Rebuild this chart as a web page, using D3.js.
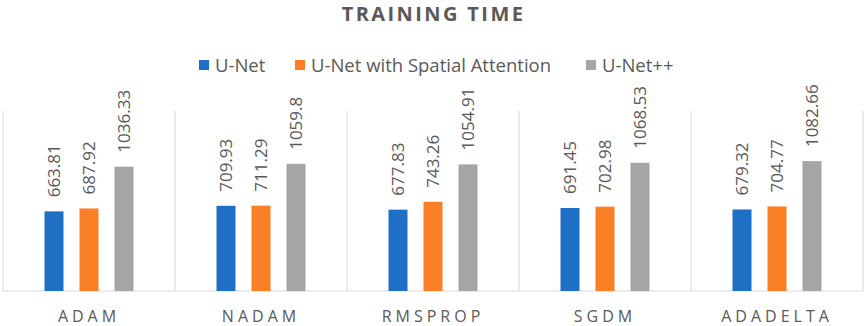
<!DOCTYPE html>
<html>
<head>
<meta charset="utf-8">
<script src="https://cdn.jsdelivr.net/npm/d3@7"></script>
<style>
  body { margin: 0; background: #fff; }
  text { font-family: "Open Sans", "Noto Sans", sans-serif; fill: #595959; }
</style>
</head>
<body>
<svg id="chart"></svg>
<script>
// data
const optimizers = ["ADAM", "NADAM", "RMSPROP", "SGDM", "ADADELTA"];
const seriesNames = ["U-Net", "U-Net with Spatial Attention", "U-Net++"];
const unet = [663.81, 709.93, 677.83, 691.45, 679.32];
const unetAttn = [687.92, 711.29, 743.26, 702.98, 704.77];
const unetPP = [1036.33, 1059.8, 1054.91, 1068.53, 1082.66];
const colors = ["#1f6fc6", "#fb7f24", "#a5a5a5"];

const allSeries = [unet, unetAttn, unetPP];

const W = 865, H = 326;
const margin = { top: 111, right: 2, bottom: 35, left: 3 };
const width = W - margin.left - margin.right;
const height = H - margin.top - margin.bottom;

const svg = d3.select("#chart").attr("width", W).attr("height", H);

// title
svg.append("text")
  .attr("x", W / 2 + 1)
  .attr("y", 21)
  .attr("text-anchor", "middle")
  .style("font-size", "20px")
  .style("font-weight", "bold")
  .style("letter-spacing", "2.4px")
  .text("TRAINING TIME");

// legend
const legendX = [199, 295, 586];
const legend = svg.append("g");
seriesNames.forEach((name, i) => {
  legend.append("rect")
    .attr("x", legendX[i]).attr("y", 60)
    .attr("width", 10).attr("height", 10)
    .attr("fill", colors[i]);
  legend.append("text")
    .attr("x", legendX[i] + 16).attr("y", 72)
    .style("font-size", "18.5px")
    .text(name);
});

const chart = svg.append("g")
  .attr("transform", `translate(${margin.left},${margin.top})`);

const x0 = d3.scaleBand().domain(optimizers).range([0, width]);
const x1 = d3.scaleBand().domain(d3.range(3)).range([0, 89]).paddingInner(0.457);
const y = d3.scaleLinear().domain([0, 1500]).range([height, 0]);

// vertical separators
const bounds = optimizers.map(o => x0(o)).concat([width]);
chart.selectAll(".sep")
  .data(bounds)
  .join("line")
  .attr("x1", d => d).attr("x2", d => d)
  .attr("y1", 0).attr("y2", height)
  .attr("stroke", "#d9d9d9").attr("stroke-width", 1);

// baseline
chart.append("line")
  .attr("x1", 0).attr("x2", width)
  .attr("y1", height).attr("y2", height)
  .attr("stroke", "#d9d9d9");

const groups = chart.selectAll(".grp")
  .data(optimizers)
  .join("g")
  .attr("transform", o => `translate(${x0(o) + x0.bandwidth() / 2 - 44.5},0)`);

groups.each(function(o, ci) {
  const g = d3.select(this);
  allSeries.forEach((s, si) => {
    const v = s[ci];
    g.append("rect")
      .attr("x", x1(si))
      .attr("y", y(v))
      .attr("width", x1.bandwidth())
      .attr("height", height - y(v))
      .attr("fill", colors[si]);
    const cx = x1(si) + x1.bandwidth() / 2;
    g.append("text")
      .attr("transform", `translate(${cx + 6},${y(v) - 14}) rotate(-90)`)
      .style("font-size", "17px")
      .text(v);
  });
});

// category labels
chart.selectAll(".cat")
  .data(optimizers)
  .join("text")
  .attr("x", o => x0(o) + x0.bandwidth() / 2)
  .attr("y", height + 31)
  .attr("text-anchor", "middle")
  .style("font-size", "16px")
  .style("letter-spacing", "4px")
  .text(o => o);
</script>
</body>
</html>
